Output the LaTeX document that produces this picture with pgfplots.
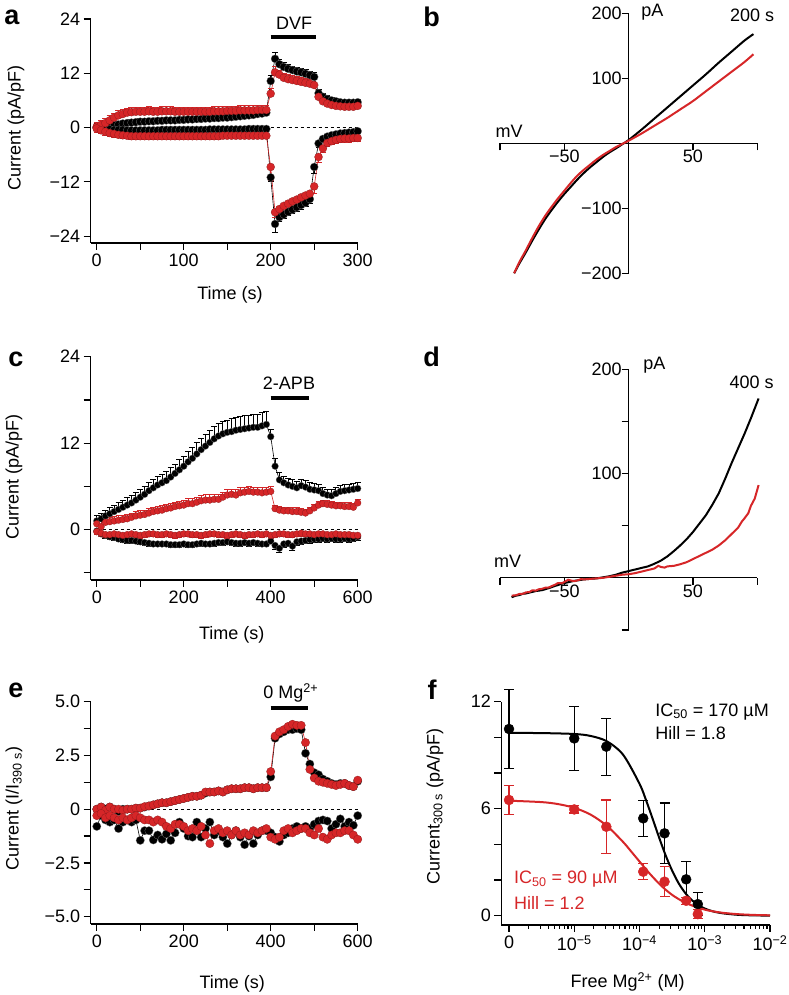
\documentclass[border=0pt]{standalone}
\usepackage{fontspec}
\setmainfont{Liberation Sans}
\usepackage{pgfplots}
\usepackage{pgfplotstable}
\pgfplotsset{compat=1.18}
\definecolor{myred}{RGB}{214,38,40}

\pgfplotstableread{
x bu bue ru rue bl ble rl rle
0 0.0 0.8 0.2 1.0 0.0 0.6 -0.2 0.8
5 0.0 0.8 0.6 1.0 -0.2 0.6 -0.6 0.8
10 0.1 0.8 1.0 1.0 -0.3 0.5 -0.9 0.8
15 0.3 0.7 1.6 1.0 -0.4 0.5 -1.2 0.8
20 0.5 0.7 2.2 1.0 -0.5 0.5 -1.4 0.8
25 0.7 0.7 2.7 1.0 -0.5 0.5 -1.6 0.7
30 0.9 0.6 3.0 1.0 -0.5 0.4 -1.7 0.7
35 1.0 0.6 3.3 1.0 -0.6 0.4 -1.8 0.7
40 1.1 0.6 3.4 1.0 -0.6 0.4 -1.9 0.7
45 1.2 0.6 3.5 1.0 -0.6 0.4 -1.9 0.7
50 1.3 0.6 3.5 1.0 -0.6 0.4 -1.9 0.7
55 1.3 0.6 3.5 1.0 -0.6 0.4 -1.9 0.7
60 1.4 0.6 3.6 1.0 -0.6 0.4 -1.9 0.7
65 1.4 0.6 3.5 1.0 -0.6 0.4 -1.9 0.7
70 1.5 0.6 3.5 1.0 -0.6 0.4 -1.9 0.7
75 1.5 0.6 3.6 1.0 -0.5 0.4 -1.9 0.7
80 1.6 0.6 3.6 1.0 -0.5 0.4 -1.9 0.7
85 1.6 0.6 3.6 1.0 -0.5 0.4 -1.9 0.7
90 1.6 0.6 3.5 1.0 -0.5 0.4 -1.9 0.7
95 1.7 0.6 3.5 1.0 -0.5 0.4 -1.9 0.7
100 1.7 0.6 3.5 1.0 -0.5 0.4 -1.9 0.7
105 1.8 0.6 3.5 1.0 -0.5 0.4 -1.9 0.7
110 1.8 0.6 3.5 1.0 -0.5 0.4 -1.9 0.7
115 1.9 0.6 3.5 1.0 -0.5 0.4 -1.9 0.7
120 1.9 0.6 3.5 1.0 -0.5 0.4 -1.9 0.7
125 2.0 0.6 3.5 1.0 -0.5 0.4 -1.9 0.7
130 2.0 0.6 3.5 1.0 -0.4 0.4 -1.9 0.7
135 2.1 0.6 3.6 1.0 -0.4 0.4 -1.9 0.7
140 2.1 0.6 3.6 1.0 -0.4 0.4 -1.9 0.7
145 2.2 0.6 3.6 1.0 -0.4 0.4 -1.8 0.7
150 2.2 0.6 3.7 1.0 -0.4 0.4 -1.8 0.7
155 2.3 0.6 3.7 1.0 -0.4 0.4 -1.8 0.7
160 2.4 0.6 3.7 1.0 -0.4 0.4 -1.8 0.7
165 2.5 0.6 3.8 1.0 -0.4 0.4 -1.8 0.7
170 2.6 0.6 3.8 1.0 -0.4 0.4 -1.8 0.7
175 2.7 0.6 3.8 1.0 -0.3 0.4 -1.8 0.7
180 2.8 0.6 3.8 1.0 -0.3 0.4 -1.8 0.7
185 3.0 0.6 3.9 1.0 -0.3 0.4 -1.8 0.7
190 3.1 0.6 3.9 1.0 -0.3 0.4 -1.8 0.7
195 3.3 0.6 3.9 1.0 -0.3 0.4 -1.8 0.7
200 10.3 1.2 7.5 1.2 -11.0 1.0 -8.7 2.9
205 15.2 1.4 12.2 1.2 -21.3 1.8 -18.7 1.2
210 14.0 1.0 11.7 1.0 -19.8 1.0 -18.0 1.0
215 13.4 0.9 11.0 1.0 -19.2 0.9 -17.3 1.0
220 13.0 0.9 10.7 1.0 -18.6 0.9 -16.8 1.0
225 12.7 0.9 10.5 1.0 -18.1 0.9 -16.3 1.0
230 12.4 0.9 10.3 1.0 -17.6 0.9 -15.9 1.0
235 12.2 0.9 10.1 1.0 -17.1 0.9 -15.4 1.0
240 11.9 0.9 9.9 1.0 -16.6 0.9 -15.0 1.0
245 11.6 0.9 9.7 1.0 -15.8 0.9 -14.6 1.2
250 11.2 0.9 9.4 1.2 -8.7 1.5 -13.0 1.6
255 7.6 0.8 6.8 1.0 -3.5 0.8 -6.5 1.2
260 6.8 0.8 5.8 1.0 -2.5 0.6 -4.6 1.0
265 6.3 0.7 5.3 0.9 -2.0 0.5 -3.4 0.8
270 6.0 0.7 5.0 0.9 -1.7 0.5 -3.0 0.8
275 5.8 0.7 4.8 0.9 -1.5 0.5 -2.7 0.8
280 5.6 0.7 4.7 0.9 -1.3 0.5 -2.5 0.8
285 5.5 0.7 4.6 0.9 -1.2 0.5 -2.4 0.8
290 5.5 0.7 4.6 0.9 -1.1 0.5 -2.4 0.8
295 5.5 0.7 4.6 0.9 -1.0 0.5 -2.3 0.8
300 5.6 0.7 4.8 0.9 -0.8 0.5 -2.3 0.8
}\tA

\pgfplotstableread{
x bu bue ru rue bl ble rl rle
0 1.2 0.8 0.8 0.7 -0.2 0.4 -0.3 0.4
10 1.5 0.8 0.4 0.7 -0.6 0.4 -0.5 0.4
20 1.9 0.8 1.0 0.6 -0.8 0.4 -0.7 0.4
30 2.2 0.9 1.1 0.6 -1.0 0.4 -0.7 0.4
40 2.5 0.9 1.2 0.6 -1.1 0.4 -0.6 0.4
50 2.8 0.9 1.3 0.6 -1.3 0.4 -0.7 0.4
60 3.1 0.9 1.4 0.6 -1.4 0.4 -0.8 0.4
70 3.4 1.0 1.5 0.6 -1.5 0.4 -0.7 0.4
80 3.7 1.0 1.7 0.6 -1.5 0.4 -0.6 0.4
90 4.1 1.0 1.9 0.6 -1.6 0.4 -0.7 0.4
100 4.5 1.0 2.0 0.6 -1.7 0.4 -0.8 0.4
110 4.9 1.1 2.1 0.6 -1.8 0.4 -0.7 0.4
120 5.4 1.1 2.3 0.6 -1.9 0.4 -0.6 0.4
130 5.8 1.2 2.5 0.6 -2.0 0.4 -0.6 0.4
140 6.2 1.2 2.6 0.6 -2.0 0.4 -0.7 0.4
150 6.5 1.2 2.7 0.6 -2.0 0.4 -0.7 0.4
160 6.8 1.3 2.9 0.6 -2.0 0.4 -0.6 0.4
170 7.3 1.3 3.0 0.6 -2.1 0.4 -0.7 0.4
180 7.8 1.3 3.2 0.6 -2.1 0.4 -0.8 0.4
190 8.3 1.4 3.3 0.6 -2.1 0.4 -0.7 0.4
200 8.8 1.4 3.4 0.6 -2.0 0.4 -0.6 0.4
210 9.4 1.5 3.6 0.7 -2.1 0.4 -0.6 0.4
220 9.9 1.5 3.6 0.7 -2.1 0.4 -0.7 0.4
230 10.5 1.6 3.8 0.7 -2.0 0.4 -0.7 0.4
240 11.1 1.6 4.0 0.7 -1.9 0.4 -0.8 0.4
250 11.6 1.6 4.1 0.7 -2.0 0.4 -0.7 0.4
260 12.1 1.7 4.1 0.7 -2.0 0.4 -0.6 0.4
270 12.6 1.7 4.2 0.7 -1.9 0.4 -0.6 0.4
280 13.0 1.7 4.2 0.7 -1.8 0.4 -0.7 0.4
290 13.3 1.7 4.5 0.7 -1.8 0.4 -0.7 0.4
300 13.5 1.7 4.8 0.7 -1.7 0.4 -0.8 0.4
310 13.6 1.8 4.9 0.7 -1.8 0.4 -0.7 0.4
320 13.8 1.8 4.8 0.7 -1.9 0.4 -0.6 0.4
330 13.9 1.8 5.1 0.7 -1.9 0.4 -0.7 0.4
340 14.0 1.8 5.2 0.7 -1.8 0.4 -0.8 0.4
350 14.1 1.8 5.3 0.7 -1.9 0.4 -0.7 0.4
360 14.2 1.8 5.2 0.7 -1.8 0.4 -0.7 0.4
370 14.2 1.8 5.2 0.7 -1.9 0.4 -0.6 0.4
380 14.4 1.8 5.1 0.7 -2.0 0.4 -0.7 0.4
390 14.6 1.8 5.2 0.7 -2.0 0.4 -0.6 0.4
400 12.9 1.0 5.3 0.7 -1.6 0.4 -0.8 0.4
410 8.8 1.0 2.9 0.5 -2.2 0.5 -0.7 0.4
420 6.9 1.0 2.7 0.5 -2.6 0.6 -0.6 0.4
430 6.5 0.9 2.6 0.5 -2.0 0.5 -0.6 0.4
440 6.2 0.9 2.6 0.5 -1.9 0.5 -0.7 0.4
450 6.0 0.9 2.5 0.5 -2.3 0.6 -0.7 0.4
460 5.8 0.9 2.5 0.5 -1.7 0.5 -0.6 0.4
470 6.1 0.9 2.4 0.5 -1.6 0.5 -0.5 0.4
480 5.9 0.9 2.3 0.5 -1.5 0.5 -0.6 0.4
490 5.6 0.9 2.6 0.5 -1.4 0.5 -0.6 0.4
500 5.5 0.9 3.0 0.5 -1.3 0.5 -0.7 0.4
510 5.4 0.9 3.4 0.5 -1.3 0.5 -0.6 0.4
520 5.0 0.9 3.6 0.5 -1.2 0.5 -0.6 0.4
530 4.8 0.8 3.5 0.5 -1.3 0.5 -0.7 0.4
540 4.7 0.8 3.4 0.5 -1.2 0.5 -0.7 0.4
550 5.0 0.8 3.3 0.5 -1.3 0.5 -0.6 0.4
560 5.3 0.8 3.3 0.5 -1.3 0.5 -0.7 0.4
570 5.4 0.8 3.2 0.5 -1.2 0.5 -0.7 0.4
580 5.5 0.8 3.2 0.5 -1.3 0.5 -0.7 0.4
590 5.6 0.8 3.1 0.5 -1.2 0.5 -0.8 0.4
600 5.7 0.8 3.7 0.5 -1.0 0.5 -0.8 0.4
}\tC

\pgfplotstableread{
x bu ru bl rl
0 0.0 0.0 -0.8 -0.3
10 0.1 0.1 -0.3 -0.2
20 0.0 -0.05 -0.5 -0.4
30 0.1 0.1 -0.6 -0.3
40 0.0 0.0 -0.5 -0.4
50 -0.1 0.0 -0.9 -0.5
60 0.0 -0.05 -0.6 -0.4
70 0.0 0.0 -0.5 -0.5
80 0.0 0.0 -0.6 -0.4
90 0.05 0.05 -0.5 -0.3
100 0.05 0.05 -1.45 -0.4
110 0.1 0.12 -1.0 -0.5
120 0.15 0.15 -1.0 -0.5
130 0.2 0.2 -1.43 -0.6
140 0.25 0.25 -1.2 -0.5
150 0.3 0.3 -1.4 -0.6
160 0.3 0.3 -1.15 -0.8
170 0.35 0.35 -1.45 -0.9
180 0.4 0.4 -1.1 -0.7
190 0.45 0.45 -0.6 -0.7
200 0.5 0.5 -0.9 -0.8
210 0.55 0.55 -1.25 -1.0
220 0.6 0.6 -1.3 -0.9
230 0.6 0.6 -0.6 -1.0
240 0.65 0.65 -1.3 -0.8
250 0.75 0.8 -0.9 -1.2
260 0.8 0.8 -0.6 -1.6
270 0.8 0.8 -1.2 -1.0
280 0.85 0.85 -1.0 -0.9
290 0.8 0.8 -1.3 -1.1
300 0.9 0.9 -1.6 -1.0
310 0.95 0.95 -1.2 -1.2
320 0.95 0.95 -1.0 -1.0
330 0.95 0.95 -1.3 -1.2
340 1.0 1.0 -1.65 -1.1
350 1.0 1.0 -1.25 -1.2
360 0.95 0.95 -1.6 -1.0
370 1.0 1.0 -1.2 -1.1
380 1.0 1.0 -1.0 -1.0
390 1.0 1.0 -1.0 -0.9
400 1.5 1.75 -1.1 -1.3
410 3.3 3.4 -1.3 -1.4
420 3.5 3.6 -1.5 -1.3
430 3.6 3.7 -1.2 -1.0
440 3.7 3.85 -1.1 -0.9
450 3.7 3.95 -0.9 -1.1
460 3.75 3.9 -0.8 -1.0
470 3.7 3.9 -0.9 -0.9
480 2.6 3.1 -0.8 -0.9
490 2.1 1.85 -0.9 -1.1
500 1.7 1.45 -0.7 -1.2
510 1.6 1.3 -0.55 -0.9
520 1.4 1.25 -0.5 -1.3
530 1.3 1.2 -0.55 -1.4
540 1.2 1.15 -0.9 -1.2
550 1.15 1.1 -0.7 -1.1
560 1.2 1.15 -0.45 -1.1
570 1.2 1.2 -0.8 -1.0
580 1.1 1.1 -0.6 -1.0
590 1.05 1.05 -0.75 -1.2
600 1.3 1.35 -0.3 -1.4
}\tE

\pgfplotsset{
  base/.style={scale only axis, clip=false,
    axis line style={line width=1.2pt,-},
    every tick/.style={black, line width=1.2pt},
    major tick length=7pt, minor tick length=4pt,
    tick align=outside,
    font=\fontsize{18}{21}\selectfont,
    tick label style={font=\fontsize{18}{21}\selectfont},
    label style={font=\fontsize{18}{21}\selectfont},
    /pgf/number format/assume math mode=true},
  lax/.style={base, axis x line*=bottom, axis y line*=left},
  mid/.style={base, axis x line=middle, axis y line=middle,
    axis line style={line width=1.2pt,-},
    x axis line style={-}, y axis line style={-},
    every inner x axis line/.append style={-},
    every inner y axis line/.append style={-},
    tick align=center, major tick length=7pt,
    xtick style={yshift=-3.5pt}, ytick style={xshift=-3.5pt}},
  bser/.style={black, line width=0.6pt, mark=*, mark size=3.6pt,
    mark options={fill=black, draw=black!55, line width=0.25pt}},
  rser/.style={myred, line width=0.6pt, mark=*, mark size=3.6pt,
    mark options={fill=myred, draw=myred!65!black, line width=0.25pt}},
  eplus/.style={error bars/.cd, y dir=plus, y explicit,
    error bar style={line width=1pt},
    error mark options={rotate=90, mark size=3pt, line width=1pt}},
  eminus/.style={error bars/.cd, y dir=minus, y explicit,
    error bar style={line width=1pt},
    error mark options={rotate=90, mark size=3pt, line width=1pt}},
  eboth/.style={error bars/.cd, y dir=both, y explicit,
    error bar style={line width=1.2pt},
    error mark options={rotate=90, mark size=5pt, line width=1.2pt}},
}

\begin{document}
\begin{tikzpicture}
\useasboundingbox (0,0) rectangle (788pt,995pt);

% ---------- a ----------
\begin{axis}[lax, at={(90.6pt,752pt)}, anchor=south west, width=267.1pt, height=224pt,
  xmin=-7, xmax=300, ymin=-25.5, ymax=24,
  xtick={0,50,...,300}, xticklabels={0,,100,,200,,300},
  ytick={-24,-12,0,12,24}, yticklabels={−24,−12,0,12,24},
  xlabel={Time (s)}, ylabel={Current (pA/pF)},
  xlabel style={at={(axis description cs:0.522,-0.232)}, anchor=center},
  ylabel style={at={(axis description cs:-0.279,0.513)}, anchor=center}]
\addplot[black, dashed, line width=1pt] coordinates {(0,0) (300,0)};
\addplot[bser, mark size=4pt, eplus] table[x=x, y=bu, y error=bue] {\tA};
\addplot[bser, mark size=4pt, eminus] table[x=x, y=bl, y error=ble] {\tA};
\addplot[rser, mark size=4pt, eplus] table[x=x, y=ru, y error=rue] {\tA};
\addplot[rser, mark size=4pt, eminus] table[x=x, y=rl, y error=rle] {\tA};
\addplot[black, line width=4.5pt] coordinates {(200,20) (252,20)};
\node at (axis cs:226.8,23.1) {DVF};
\end{axis}

% ---------- b ----------
\begin{axis}[mid,
  at={(500pt,721.7pt)}, anchor=south west, width=257.3pt, height=260pt,
  xmin=-100, xmax=100, ymin=-200, ymax=200,
  xtick={-100,-50,50,100}, xticklabels={,−50,50,},
  ytick={-200,-100,100,200}, yticklabels={−200,−100,100,200}]
\addplot[black, line width=2pt, smooth] coordinates {(-89,-200) (-85,-185) (-80,-168) (-75,-150) (-70,-133) (-65,-117) (-60,-103) (-55,-90) (-50,-78) (-45,-67) (-40,-56) (-35,-46) (-30,-37) (-25,-29) (-20,-21) (-15,-14) (-10,-8) (-5,-1.5) (0,5) (10,21) (20,38) (30,55) (40,72) (50,89) (60,106) (70,124) (80,141) (90,158) (97,168)};
\addplot[myred, line width=2pt, smooth] coordinates {(-89,-200) (-85,-183) (-80,-165) (-75,-146) (-70,-128) (-65,-112) (-60,-98) (-55,-85) (-50,-73) (-45,-61) (-40,-50) (-35,-41) (-30,-33) (-25,-25) (-20,-18) (-15,-12) (-10,-6) (-5,-1) (0,4) (10,15) (20,27) (30,39) (40,52) (50,65) (60,80) (70,95) (80,110) (90,125) (97,137)};
\node at (axis cs:18.5,201) {pA};
\node at (axis cs:-92.9,18.8) {mV};
\node at (axis cs:96,197) {200 s};
\end{axis}

% ---------- c ----------
\begin{axis}[lax, at={(90.7pt,415pt)}, anchor=south west, width=267pt, height=223.3pt,
  xmin=-14, xmax=600, ymin=-7, ymax=24,
  xtick={0,100,...,600}, xticklabels={0,,200,,400,,600},
  ytick={-6,0,6,12,18,24}, yticklabels={,0,,12,,24},
  xlabel={Time (s)}, ylabel={Current (pA/pF)},
  xlabel style={at={(axis description cs:0.528,-0.246)}, anchor=center},
  ylabel style={at={(axis description cs:-0.287,0.461)}, anchor=center}]
\addplot[black, dashed, line width=1pt] coordinates {(0,0) (600,0)};
\addplot[bser, mark size=3.4pt, eplus] table[x=x, y=bu, y error=bue] {\tC};
\addplot[bser, mark size=3.4pt, eminus] table[x=x, y=bl, y error=ble] {\tC};
\addplot[rser, mark size=3.4pt, eplus] table[x=x, y=ru, y error=rue] {\tC};
\addplot[rser, mark size=3.4pt, eminus] table[x=x, y=rl, y error=rle] {\tC};
\addplot[black, line width=4.5pt] coordinates {(400,18.3) (489,18.3)};
\node at (axis cs:442,20.3) {2-APB};
\end{axis}

% ---------- d ----------
\begin{axis}[mid,
  at={(500pt,365pt)}, anchor=south west, width=257.3pt, height=260.7pt,
  xmin=-100, xmax=100, ymin=-50, ymax=200,
  xtick={-100,-50,50,100}, xticklabels={,−50,50,},
  ytick={-50,50,100,150,200}, yticklabels={,,100,,200}]
\addplot[black, line width=2pt] coordinates {(-91,-18.6) (-88,-17.2) (-85,-16.5) (-82,-15.2) (-80,-15) (-77,-14.1) (-75,-13.5) (-72,-12.6) (-70,-12.3) (-67,-11.7) (-65,-11) (-62,-9.8) (-60,-9) (-57,-7.6) (-55,-7) (-52,-5.5) (-50,-5) (-47,-4.2) (-45,-3.6) (-42,-2.8) (-40,-2.5) (-35,-1.5) (-30,-1) (-25,-0.5) (-20,0.5) (-15,1.5) (-10,3) (-5,5) (0,6.5) (5,8) (10,9.5) (15,11) (20,13.5) (25,16.5) (30,20.5) (35,25.5) (40,31) (45,37) (50,44) (55,52) (60,60) (65,70) (70,81) (75,95) (80,110) (85,124) (90,138) (95,153) (101,172)};
\addplot[myred, line width=2pt] coordinates {(-91,-17) (-88,-16.8) (-85,-15.5) (-82,-15.2) (-80,-14) (-77,-13.5) (-75,-12) (-72,-12.2) (-70,-11) (-67,-10.4) (-65,-9.5) (-62,-9.2) (-60,-8) (-57,-6.5) (-55,-5) (-52,-5.2) (-50,-4) (-47,-1.8) (-45,-2.5) (-42,-3.2) (-40,-2.5) (-37,-1.2) (-35,-1.5) (-30,-1) (-25,-0.5) (-20,0) (-15,1) (-10,2) (-5,3) (0,3.5) (5,4.5) (10,6) (15,7.5) (20,9) (23,11.5) (25,10.5) (28,9.8) (30,11) (35,11.5) (40,13) (45,15) (50,18) (55,21) (60,24) (65,27) (70,31) (75,36) (80,42) (85,48) (88,54) (90,57) (93,62) (95,69) (98,76) (101,89)};
\node at (axis cs:20,203.6) {pA};
\node at (axis cs:-94,15.4) {mV};
\node at (axis cs:95.5,188) {400 s};
\end{axis}

% ---------- e ----------
\begin{axis}[lax, at={(90.7pt,71pt)}, anchor=south west, width=267pt, height=222.3pt,
  xmin=-14, xmax=600, ymin=-5.34, ymax=5,
  xtick={0,100,...,600}, xticklabels={0,,200,,400,,600},
  ytick={-5,-3.75,-2.5,-1.25,0,1.25,2.5,3.75,5}, yticklabels={−5.0,,−2.5,,0,,2.5,,5.0},
  xlabel={Time (s)}, ylabel={Current (I/I\textsubscript{390 s})},
  xlabel style={at={(axis description cs:0.53,-0.267)}, anchor=center},
  ylabel style={at={(axis description cs:-0.287,0.52)}, anchor=center}]
\addplot[black, dashed, line width=1pt] coordinates {(0,0) (600,0)};
\addplot[bser, mark size=4.2pt] table[x=x, y=bu] {\tE};
\addplot[bser, mark size=4.2pt] table[x=x, y=bl] {\tE};
\addplot[rser, mark size=4.2pt] table[x=x, y=ru] {\tE};
\addplot[rser, mark size=4.2pt] table[x=x, y=rl] {\tE};
\addplot[black, line width=4.5pt] coordinates {(400,4.7) (486,4.7)};
\node at (axis cs:446,5.4) {0 Mg\textsuperscript{2+}};
\end{axis}

% ---------- f ----------
\begin{axis}[lax, xmode=log, at={(501.3pt,70pt)}, anchor=south west, width=268.7pt, height=223.3pt,
  xmin=7.62e-7, xmax=1e-2, ymin=-0.52, ymax=12,
  xtick={1e-6,1e-5,1e-4,1e-3,1e-2},
  xticklabels={0,10\textsuperscript{−5},10\textsuperscript{−4},10\textsuperscript{−3},10\textsuperscript{−2}},
  minor xtick={2e-6,3e-6,4e-6,5e-6,6e-6,7e-6,8e-6,9e-6,2e-5,3e-5,4e-5,5e-5,6e-5,7e-5,8e-5,9e-5,2e-4,3e-4,4e-4,5e-4,6e-4,7e-4,8e-4,9e-4,2e-3,3e-3,4e-3,5e-3,6e-3,7e-3,8e-3,9e-3},
  ytick={0,2,4,6,8,10,12}, yticklabels={0,,,6,,,12},
  xlabel={Free Mg\textsuperscript{2+} (M)}, ylabel={Current\textsubscript{300 s} (pA/pF)},
  xlabel style={at={(axis description cs:0.47,-0.254)}, anchor=center},
  ylabel style={at={(axis description cs:-0.247,0.53)}, anchor=center}]
\addplot[black, line width=2pt, smooth] coordinates {(1e-6,10.25) (3.162e-6,10.24) (1e-5,10.19) (1.778e-5,10.08) (3.162e-5,9.78) (5.623e-5,9.02) (1e-4,7.40) (1.259e-4,6.48) (1.585e-4,5.45) (1.995e-4,4.39) (2.512e-4,3.39) (3.162e-4,2.53) (3.981e-4,1.82) (5.012e-4,1.28) (6.310e-4,0.88) (7.943e-4,0.60) (1e-3,0.405) (1.259e-3,0.271) (1.778e-3,0.148) (3.162e-3,0.053) (5.623e-3,0.019) (1e-2,0.007)};
\addplot[black, only marks, mark=*, mark size=5pt, eboth] table[x=x, y=y, y error=e] {
x y e
1e-6 10.47 2.2
1e-5 9.94 1.8
3.1e-5 9.48 1.6
1.14e-4 5.46 1.0
2.42e-4 4.62 1.7
5.19e-4 2.04 1.0
7.83e-4 0.65 0.65
};
\addplot[myred, line width=2pt, smooth] coordinates {(1e-6,6.45) (3.162e-6,6.37) (5.623e-6,6.26) (1e-5,6.05) (1.778e-5,5.67) (3.162e-5,5.04) (5.623e-5,4.13) (7.5e-5,3.59) (1e-4,3.04) (1.334e-4,2.49) (1.778e-4,1.99) (2.371e-4,1.54) (3.162e-4,1.17) (4.217e-4,0.88) (5.623e-4,0.65) (1e-3,0.34) (1.778e-3,0.176) (3.162e-3,0.089) (5.623e-3,0.045) (1e-2,0.023)};
\addplot[myred, only marks, mark=*, mark size=5pt, eboth] table[x=x, y=y, y error=e] {
x y e
1e-6 6.49 0.8
1e-5 5.96 0.2
3.1e-5 4.99 1.5
1.14e-4 2.47 0.45
2.42e-4 1.91 0.85
5.19e-4 0.84 0.2
7.83e-4 0.09 0.25
};
\node[anchor=west] at (axis cs:1.55e-4,11.44) {IC\textsubscript{50} = 170 µM};
\node[anchor=west] at (axis cs:1.55e-4,10.25) {Hill = 1.8};
\node[anchor=west, text=myred] at (axis cs:1.06e-6,2.06) {IC\textsubscript{50} = 90 µM};
\node[anchor=west, text=myred] at (axis cs:1.06e-6,0.72) {Hill = 1.2};
\end{axis}

\node[font=\bfseries\fontsize{27}{30}\selectfont, inner sep=0pt] at (12pt,978pt) {a};
\node[font=\bfseries\fontsize{27}{30}\selectfont, inner sep=0pt] at (431.5pt,978pt) {b};
\node[font=\bfseries\fontsize{27}{30}\selectfont, inner sep=0pt] at (16pt,636pt) {c};
\node[font=\bfseries\fontsize{27}{30}\selectfont, inner sep=0pt] at (431.5pt,638pt) {d};
\node[font=\bfseries\fontsize{27}{30}\selectfont, inner sep=0pt] at (16pt,305pt) {e};
\node[font=\bfseries\fontsize{27}{30}\selectfont, inner sep=0pt] at (432pt,305pt) {f};
\end{tikzpicture}
\end{document}
